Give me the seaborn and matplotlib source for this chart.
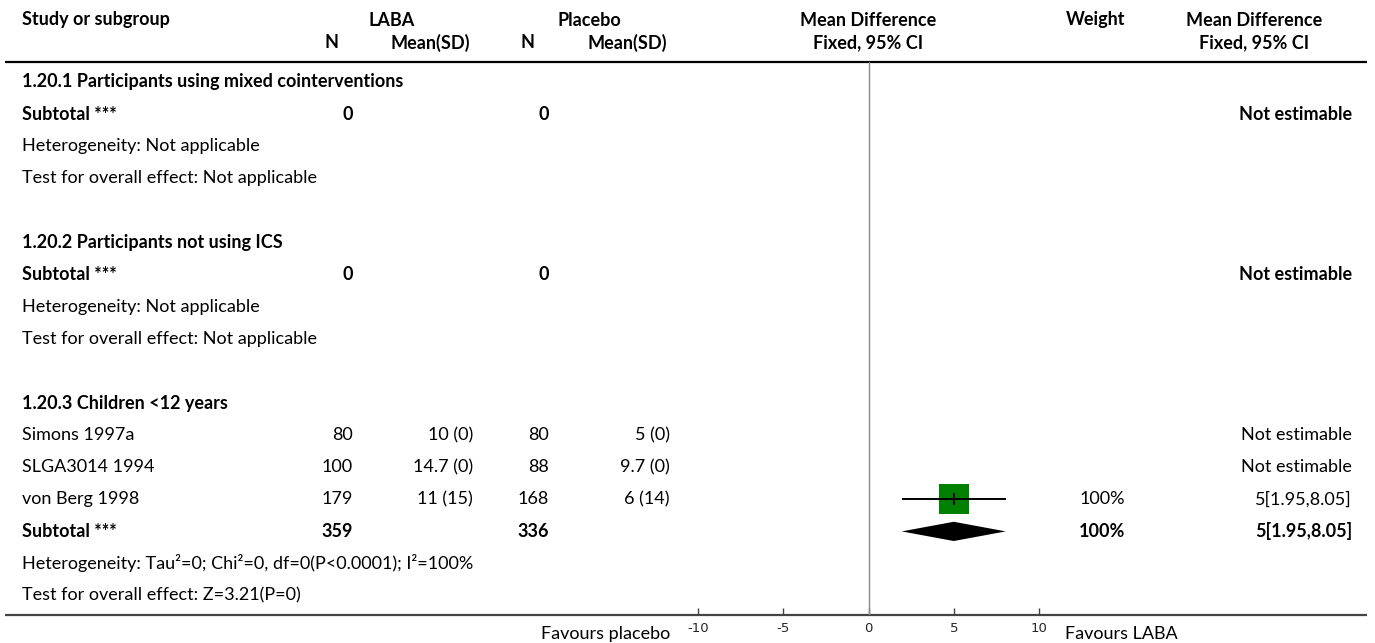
import numpy as np
import pandas as pd
import matplotlib
matplotlib.use("Agg")
import matplotlib.pyplot as plt
import seaborn as sns

# ---------------- data ----------------
subgroups = ["1.20.1 Participants using mixed cointerventions",
             "1.20.2 Participants not using ICS",
             "1.20.3 Children <12 years"]
studies = ["Simons 1997a", "SLGA3014 1994", "von Berg 1998"]
laba_n = [80, 100, 179]
laba_mean = [10, 14.7, 11]
laba_sd = [0, 0, 15]
placebo_n = [80, 88, 168]
placebo_mean = [5, 9.7, 6]
placebo_sd = [0, 0, 14]
study_md = [np.nan, np.nan, 5]
study_lo = [np.nan, np.nan, 1.95]
study_hi = [np.nan, np.nan, 8.05]
study_weight = [np.nan, np.nan, 100]
sub_laba_n = [0, 0, 359]
sub_placebo_n = [0, 0, 336]
sub_md = [np.nan, np.nan, 5]
sub_lo = [np.nan, np.nan, 1.95]
sub_hi = [np.nan, np.nan, 8.05]
sub_weight = [np.nan, np.nan, 100]
heterogeneity = ["Heterogeneity: Not applicable",
                 "Heterogeneity: Not applicable",
                 "Heterogeneity: Tau\u00b2=0; Chi\u00b2=0, df=0(P<0.0001); I\u00b2=100%"]
overall = ["Test for overall effect: Not applicable",
           "Test for overall effect: Not applicable",
           "Test for overall effect: Z=3.21(P=0)"]
xticks = [-10, -5, 0, 5, 10]
left_label = "Favours placebo"
right_label = "Favours LABA"

# ---------------- style ----------------
sns.set_theme(style="white")
plt.rcParams["font.family"] = ["Lato", "DejaVu Sans"]
plt.rcParams["axes.unicode_minus"] = False
FS = 13.0

W, H = 1375, 643
fig = plt.figure(figsize=(W / 100, H / 100), dpi=100)

ax_t = fig.add_axes([0, 0, 1, 1])
ax_t.set_xlim(0, W)
ax_t.set_ylim(H, 0)
ax_t.axis("off")

ROW0, STEP = 82, 32.1
TOP_LINE, BOT_LINE = 62, 615
def ry(i):
    return ROW0 + STEP * i

# column anchors (pixels)
X_STUDY = 22
X_LN, X_LM, X_PN, X_PM = 353, 473, 549, 670
X_W, X_E = 1125, 1352

def txt(x, y, s, ha="left", bold=False, size=FS, **kw):
    ax_t.text(x, y, s, ha=ha, va="center", fontsize=size,
              fontweight="bold" if bold else "normal", color="black", **kw)

# header
HY1, HY2 = 20, 43
txt(X_STUDY, HY1, "Study or subgroup", bold=True)
txt(392, HY1, "LABA", ha="center", bold=True)
txt(589, HY1, "Placebo", ha="center", bold=True)
txt(868, HY1, "Mean Difference", ha="center", bold=True)
txt(X_W, HY1, "Weight", ha="right", bold=True)
txt(1254, HY1, "Mean Difference", ha="center", bold=True)
txt(332, HY2, "N", ha="center", bold=True)
txt(430, HY2, "Mean(SD)", ha="center", bold=True)
txt(528, HY2, "N", ha="center", bold=True)
txt(627, HY2, "Mean(SD)", ha="center", bold=True)
txt(868, HY2, "Fixed, 95% CI", ha="center", bold=True)
txt(1254, HY2, "Fixed, 95% CI", ha="center", bold=True)

ax_t.hlines(TOP_LINE, 5, 1367, color="black", lw=1.6)
ax_t.hlines(BOT_LINE, 5, 1367, color="#444444", lw=1.6)

def eff(md, lo, hi):
    return f"{md:g}[{lo:g},{hi:g}]"

# body rows
row = 0
forest_rows = []
diamond_rows = []
for g in range(3):
    txt(X_STUDY, ry(row), subgroups[g], bold=True)
    row += 1
    if g == 2:
        for k in range(len(studies)):
            txt(X_STUDY, ry(row), studies[k])
            txt(X_LN, ry(row), str(laba_n[k]), ha="right")
            txt(X_LM, ry(row), f"{laba_mean[k]:g} ({laba_sd[k]:g})", ha="right")
            txt(X_PN, ry(row), str(placebo_n[k]), ha="right")
            txt(X_PM, ry(row), f"{placebo_mean[k]:g} ({placebo_sd[k]:g})", ha="right")
            if np.isnan(study_md[k]):
                txt(X_E, ry(row), "Not estimable", ha="right")
            else:
                txt(X_W, ry(row), f"{study_weight[k]:g}%", ha="right")
                txt(X_E, ry(row), eff(study_md[k], study_lo[k], study_hi[k]), ha="right")
                forest_rows.append((row, study_md[k], study_lo[k], study_hi[k], study_weight[k]))
            row += 1
    txt(X_STUDY, ry(row), "Subtotal ***", bold=True)
    txt(X_LN, ry(row), str(sub_laba_n[g]), ha="right", bold=True)
    txt(X_PN, ry(row), str(sub_placebo_n[g]), ha="right", bold=True)
    if np.isnan(sub_md[g]):
        txt(X_E, ry(row), "Not estimable", ha="right", bold=True)
    else:
        txt(X_W, ry(row), f"{sub_weight[g]:g}%", ha="right", bold=True)
        txt(X_E, ry(row), eff(sub_md[g], sub_lo[g], sub_hi[g]), ha="right", bold=True)
        diamond_rows.append((row, sub_md[g], sub_lo[g], sub_hi[g]))
    row += 1
    txt(X_STUDY, ry(row), heterogeneity[g])
    row += 1
    txt(X_STUDY, ry(row), overall[g])
    row += 2

# ---------------- forest axes ----------------
fx0, fx1 = 698, 1039
ax = fig.add_axes([fx0 / W, 1 - BOT_LINE / H, (fx1 - fx0) / W, (BOT_LINE - TOP_LINE) / H])
ax.patch.set_alpha(0)
ax.set_xlim(-10, 10)
ax.set_ylim((BOT_LINE - ROW0) / STEP, (TOP_LINE - ROW0) / STEP)
for sp in ax.spines.values():
    sp.set_visible(False)
ax.axvline(0, color="#888888", lw=1.0, zorder=1)

fdf = pd.DataFrame(forest_rows, columns=["row", "md", "lo", "hi", "w"])
sns.scatterplot(data=fdf, x="md", y="row", marker="s", s=480, color="#008000",
                linewidth=0, ax=ax, zorder=2, legend=False)
ax.hlines(fdf["row"], fdf["lo"], fdf["hi"], color="black", lw=1.4, zorder=3)
ax.plot(fdf["md"], fdf["row"], marker="|", ms=9, mew=1.4, color="black", ls="none", zorder=4)

for (r, md, lo, hi) in diamond_rows:
    h = 0.3
    ax.fill([lo, md, hi, md], [r, r - h, r, r + h], color="black", lw=0, zorder=3)

ax.set_xticks(xticks)
ax.set_xticklabels([str(t) for t in xticks], fontfamily="DejaVu Sans", fontsize=9.5)
ax.set_yticks([])
ax.tick_params(axis="x", direction="in", length=5, width=1, color="#444444", pad=5, bottom=True)
ax.set_xlabel("")
ax.set_ylabel("")

txt(670, 634, left_label, ha="right")
txt(1065, 634, right_label, ha="left")

fig.savefig("out.png", dpi=100)
